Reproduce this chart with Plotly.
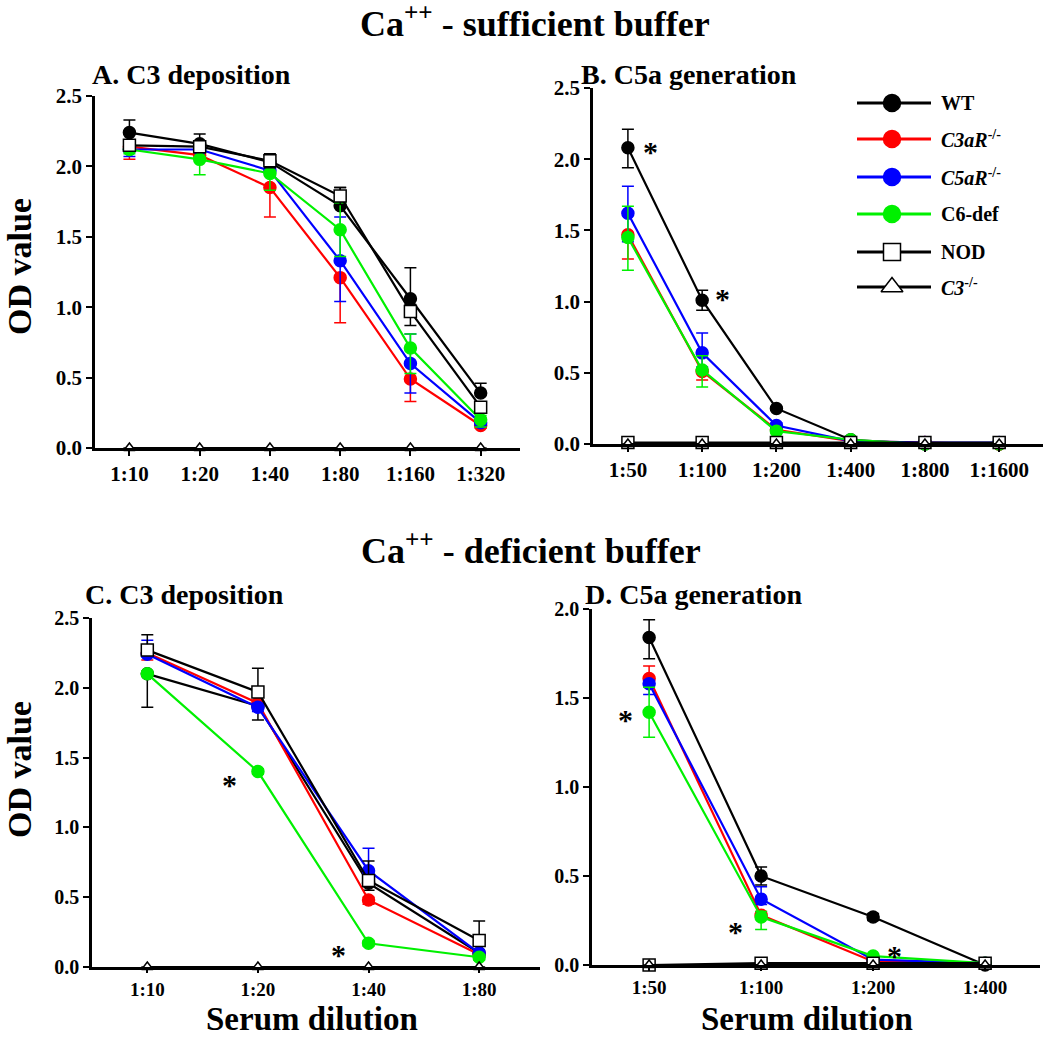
import plotly.graph_objects as go

# ---------------- DATA ----------------
series_names = ["WT", "C3aR-/-", "C5aR-/-", "C6-def", "NOD", "C3-/-"]

dil_A = ["1:10", "1:20", "1:40", "1:80", "1:160", "1:320"]
A_WT = [2.24, 2.16, 2.03, 1.72, 1.06, 0.39]
A_WT_up = [0.09, 0.07, 0.05, 0.13, 0.22, 0.07]
A_WT_dn = [0.0, 0.0, 0.0, 0.0, 0.0, 0.0]
A_C3aR = [2.14, 2.08, 1.85, 1.21, 0.49, 0.16]
A_C3aR_up = [0.0, 0.0, 0.0, 0.0, 0.0, 0.0]
A_C3aR_dn = [0.09, 0.03, 0.21, 0.32, 0.16, 0.02]
A_C5aR = [2.12, 2.12, 1.97, 1.33, 0.60, 0.18]
A_C5aR_up = [0.02, 0.02, 0.03, 0.31, 0.21, 0.02]
A_C5aR_dn = [0.05, 0.02, 0.03, 0.29, 0.21, 0.02]
A_C6 = [2.12, 2.05, 1.95, 1.55, 0.71, 0.20]
A_C6_up = [0.03, 0.05, 0.02, 0.19, 0.10, 0.03]
A_C6_dn = [0.03, 0.11, 0.12, 0.19, 0.18, 0.05]
A_NOD = [2.15, 2.14, 2.04, 1.79, 0.97, 0.29]
A_NOD_up = [0.03, 0.03, 0.05, 0.06, 0.05, 0.0]
A_NOD_dn = [0.03, 0.03, 0.05, 0.06, 0.10, 0.0]
A_C3 = [0.0, 0.0, 0.0, 0.0, 0.0, 0.0]

dil_B = ["1:50", "1:100", "1:200", "1:400", "1:800", "1:1600"]
B_WT = [2.08, 1.01, 0.25, 0.03, 0.0, 0.0]
B_WT_up = [0.13, 0.07, 0.01, 0.0, 0.0, 0.0]
B_WT_dn = [0.14, 0.07, 0.01, 0.0, 0.0, 0.0]
B_C3aR = [1.47, 0.51, 0.10, 0.02, 0.01, 0.0]
B_C3aR_up = [0.0, 0.0, 0.0, 0.0, 0.0, 0.0]
B_C3aR_dn = [0.17, 0.06, 0.01, 0.0, 0.0, 0.0]
B_C5aR = [1.62, 0.64, 0.13, 0.02, 0.01, 0.01]
B_C5aR_up = [0.19, 0.14, 0.02, 0.0, 0.0, 0.0]
B_C5aR_dn = [0.20, 0.10, 0.02, 0.0, 0.0, 0.0]
B_C6 = [1.45, 0.52, 0.09, 0.03, 0.0, 0.0]
B_C6_up = [0.22, 0.10, 0.01, 0.0, 0.0, 0.0]
B_C6_dn = [0.23, 0.12, 0.01, 0.0, 0.0, 0.0]
B_NOD = [0.01, 0.01, 0.01, 0.01, 0.01, 0.01]
B_C3 = [0.0, 0.0, 0.0, 0.0, 0.0, 0.0]

dil_C = ["1:10", "1:20", "1:40", "1:80"]
C_WT = [2.10, 1.87, 0.60, 0.10]
C_WT_up = [0.0, 0.0, 0.0, 0.0]
C_WT_dn = [0.24, 0.10, 0.05, 0.02]
C_C3aR = [2.25, 1.89, 0.48, 0.09]
C_C3aR_up = [0.02, 0.02, 0.02, 0.01]
C_C3aR_dn = [0.05, 0.03, 0.03, 0.01]
C_C5aR = [2.24, 1.86, 0.69, 0.10]
C_C5aR_up = [0.10, 0.03, 0.16, 0.02]
C_C5aR_dn = [0.02, 0.03, 0.02, 0.02]
C_C6 = [2.10, 1.40, 0.17, 0.07]
C_C6_up = [0.02, 0.02, 0.02, 0.02]
C_C6_dn = [0.02, 0.02, 0.02, 0.02]
C_NOD = [2.27, 1.97, 0.62, 0.19]
C_NOD_up = [0.11, 0.17, 0.14, 0.14]
C_NOD_dn = [0.0, 0.0, 0.0, 0.0]
C_C3 = [0.0, 0.0, 0.0, 0.0]

dil_D = ["1:50", "1:100", "1:200", "1:400"]
D_WT = [1.84, 0.50, 0.27, 0.0]
D_WT_up = [0.10, 0.05, 0.02, 0.0]
D_WT_dn = [0.12, 0.05, 0.02, 0.0]
D_C3aR = [1.61, 0.28, 0.02, 0.01]
D_C3aR_up = [0.07, 0.02, 0.01, 0.0]
D_C3aR_dn = [0.02, 0.02, 0.0, 0.0]
D_C5aR = [1.58, 0.37, 0.03, 0.01]
D_C5aR_up = [0.02, 0.07, 0.01, 0.0]
D_C5aR_dn = [0.06, 0.03, 0.01, 0.0]
D_C6 = [1.42, 0.27, 0.05, 0.01]
D_C6_up = [0.14, 0.03, 0.01, 0.0]
D_C6_dn = [0.14, 0.07, 0.01, 0.0]
D_NOD = [0.0, 0.01, 0.01, 0.01]
D_C3 = [0.0, 0.0, 0.0, 0.0]

# significance asterisks: (category index, offset, y value)
star_B = [(0, 0.31, 2.10), (1, 0.27, 1.07)]
star_C = [(1, -0.26, 1.36), (2, -0.27, 0.14)]
star_D = [(0, -0.21, 1.42), (1, -0.23, 0.23), (2, 0.19, 0.09)]

# ---------------- STYLE ----------------
W, H = 1050, 1039
FONT = "Liberation Serif"
green = "#00F000"


def px_x(p):
    return p / W


def px_y(p):
    return 1 - p / H


fig = go.Figure()


def add_series(xa, ya, cats, y, up, dn, name, symbol, fill, line_color, msize):
    xs = list(range(len(cats)))
    fig.add_trace(go.Scatter(
        x=xs, y=y, xaxis=xa, yaxis=ya, mode="lines+markers", name=name,
        showlegend=False, cliponaxis=False,
        line=dict(color=line_color, width=2.2),
        marker=dict(symbol=symbol, size=msize, color=fill,
                    line=dict(color=line_color, width=1.5)),
        error_y=dict(type="data", symmetric=False,
                     array=up if up is not None else [0] * len(y),
                     arrayminus=dn if dn is not None else [0] * len(y),
                     color=line_color, thickness=1.5, width=6,
                     visible=True),
    ))


def add_panel(xa, ya, cats, WT, C3aR, C5aR, C6, NOD, C3):
    add_series(xa, ya, cats, WT[0], WT[1], WT[2], "WT", "circle", "#000000", "#000000", 12)
    add_series(xa, ya, cats, C3aR[0], C3aR[1], C3aR[2], "C3aR-/-", "circle", "#FF0000", "#FF0000", 12)
    add_series(xa, ya, cats, C5aR[0], C5aR[1], C5aR[2], "C5aR-/-", "circle", "#0000FF", "#0000FF", 12)
    add_series(xa, ya, cats, C6[0], C6[1], C6[2], "C6-def", "circle", green, green, 12)
    add_series(xa, ya, cats, NOD[0], NOD[1], NOD[2], "NOD", "square", "#FFFFFF", "#000000", 12)
    add_series(xa, ya, cats, C3[0], C3[1], C3[2], "C3-/-", "triangle-up", "#FFFFFF", "#000000", 10)


add_panel("x", "y", dil_A, (A_WT, A_WT_up, A_WT_dn), (A_C3aR, A_C3aR_up, A_C3aR_dn),
          (A_C5aR, A_C5aR_up, A_C5aR_dn), (A_C6, A_C6_up, A_C6_dn),
          (A_NOD, A_NOD_up, A_NOD_dn), (A_C3, None, None))
add_panel("x2", "y2", dil_B, (B_WT, B_WT_up, B_WT_dn), (B_C3aR, B_C3aR_up, B_C3aR_dn),
          (B_C5aR, B_C5aR_up, B_C5aR_dn), (B_C6, B_C6_up, B_C6_dn),
          (B_NOD, None, None), (B_C3, None, None))
add_panel("x3", "y3", dil_C, (C_WT, C_WT_up, C_WT_dn), (C_C3aR, C_C3aR_up, C_C3aR_dn),
          (C_C5aR, C_C5aR_up, C_C5aR_dn), (C_C6, C_C6_up, C_C6_dn),
          (C_NOD, C_NOD_up, C_NOD_dn), (C_C3, None, None))
add_panel("x4", "y4", dil_D, (D_WT, D_WT_up, D_WT_dn), (D_C3aR, D_C3aR_up, D_C3aR_dn),
          (D_C5aR, D_C5aR_up, D_C5aR_dn), (D_C6, D_C6_up, D_C6_dn),
          (D_NOD, None, None), (D_C3, None, None))

# ---------------- LEGEND (manual, on a hidden pixel overlay) ----------------
leg_rows = [103, 139, 177, 214, 252, 287]
leg_x0, leg_x1, leg_xm, leg_tx = 857, 931, 892, 939
leg_symbols = ["circle", "circle", "circle", "circle", "square", "triangle-up"]
leg_fill = ["#000000", "#FF0000", "#0000FF", green, "#FFFFFF", "#FFFFFF"]
leg_line = ["#000000", "#FF0000", "#0000FF", green, "#000000", "#000000"]
leg_sizes = [17, 17, 17, 17, 17, 19]
leg_texts = ["<b>WT</b>", "<b><i>C3aR</i><sup>-/-</sup></b>", "<b><i>C5aR</i><sup>-/-</sup></b>",
             "<b>C6-def</b>", "<b>NOD</b>", "<b><i>C3</i><sup>-/-</sup></b>"]
for yrow, sym, fc, lc, sz in zip(leg_rows, leg_symbols, leg_fill, leg_line, leg_sizes):
    fig.add_trace(go.Scatter(x=[leg_x0, leg_x1], y=[yrow, yrow],
                             xaxis="x5", yaxis="y5",
                             mode="lines", showlegend=False, cliponaxis=False,
                             line=dict(color=lc, width=2.8), hoverinfo="skip"))
    fig.add_trace(go.Scatter(x=[leg_xm], y=[yrow], xaxis="x5", yaxis="y5",
                             mode="markers", showlegend=False, cliponaxis=False,
                             marker=dict(symbol=sym, size=sz, color=fc,
                                         line=dict(color=lc, width=1.5)),
                             hoverinfo="skip"))

annotations = []
for yrow, t in zip(leg_rows, leg_texts):
    annotations.append(dict(x=leg_tx, y=yrow, xref="x5", yref="y5", text=t,
                            showarrow=False, xanchor="left", yanchor="middle",
                            font=dict(family=FONT, size=20, color="black")))

# ---------------- AXES ----------------
tickfont = dict(family=FONT, size=21, color="black", weight="bold")
tickfont_cd = dict(family=FONT, size=20, color="black", weight="bold")
tickfont_cd_x = dict(family=FONT, size=19, color="black", weight="bold")


def xaxis(dom, cats, rng, tf, tl=5):
    return dict(domain=[px_x(dom[0]), px_x(dom[1])], range=rng,
                tickmode="array", tickvals=list(range(len(cats))), ticktext=cats,
                showline=True, linecolor="black", linewidth=2.5, ticks="outside",
                ticklen=tl, tickwidth=2, tickcolor="black", showgrid=False,
                zeroline=False, tickfont=tf, fixedrange=True, automargin=False)


def yaxis(dom, rng, tf):
    return dict(domain=[px_y(dom[1]), px_y(dom[0])], range=rng, dtick=0.5, tick0=0,
                tickformat=".1f", showline=True, linecolor="black", linewidth=2.5,
                ticks="outside", ticklen=6, tickwidth=2, tickcolor="black",
                showgrid=False, zeroline=False, tickfont=tf, fixedrange=True,
                automargin=False)


layout = dict(
    width=W, height=H, margin=dict(l=0, r=0, t=0, b=0, pad=0, autoexpand=False),
    autosize=False,
    paper_bgcolor="white", plot_bgcolor="rgba(0,0,0,0)",
    showlegend=False,
    xaxis=dict(**xaxis((95, 520), dil_A, [-0.49, 5.56], tickfont), anchor="y"),
    yaxis=dict(**yaxis((96, 448), [0, 2.5], tickfont), anchor="x"),
    xaxis2=dict(**xaxis((593, 1043), dil_B, [-0.47, 5.59], tickfont), anchor="y2"),
    yaxis2=dict(**yaxis((88, 444), [0, 2.5], tickfont), anchor="x2"),
    xaxis3=dict(**xaxis((92, 540), dil_C, [-0.50, 3.55], tickfont_cd_x, 3), anchor="y3"),
    yaxis3=dict(**yaxis((618, 967), [0, 2.5], tickfont_cd), anchor="x3"),
    xaxis4=dict(**xaxis((592, 1040), dil_D, [-0.51, 3.49], tickfont_cd_x, 3), anchor="y4"),
    yaxis4=dict(**yaxis((609, 965), [0, 2.0], tickfont_cd), anchor="x4"),
    xaxis5=dict(domain=[0, 1], range=[0, W], visible=False, anchor="y5", fixedrange=True),
    yaxis5=dict(domain=[0, 1], range=[H, 0], visible=False, anchor="x5", fixedrange=True),
)


def paper_text(x, y, text, size, xanchor="center", angle=0, yanchor="middle"):
    return dict(x=px_x(x), y=px_y(y), xref="paper", yref="paper", text=text,
                showarrow=False, xanchor=xanchor, yanchor=yanchor, textangle=angle,
                font=dict(family=FONT, size=size, color="black"))


annotations += [
    paper_text(535, 21, "<b>Ca<sup>++</sup> - sufficient buffer</b>", 36),
    paper_text(531, 548, "<b>Ca<sup>++</sup> - deficient buffer</b>", 36),
    paper_text(90, 75, "<b>A. C3 deposition</b>", 28, "left"),
    paper_text(579, 75, "<b>B. C5a generation</b>", 28, "left"),
    paper_text(83, 594, "<b>C. C3 deposition</b>", 28, "left"),
    paper_text(583, 594, "<b>D. C5a generation</b>", 28, "left"),
    paper_text(19, 267, "<b>OD value</b>", 34, "center", -90),
    paper_text(19, 770, "<b>OD value</b>", 34, "center", -90),
    paper_text(312, 1039, "<b>Serum dilution</b>", 33, "center", 0, "bottom"),
    paper_text(807, 1039, "<b>Serum dilution</b>", 33, "center", 0, "bottom"),
]

for xa, ya, stars in (("x2", "y2", star_B), ("x3", "y3", star_C), ("x4", "y4", star_D)):
    for ci, off, yv in stars:
        annotations.append(dict(x=ci + off, y=yv, xref=xa, yref=ya, text="<b>*</b>",
                                showarrow=False, xanchor="center", yanchor="middle",
                                yshift=-7,
                                font=dict(family=FONT, size=30, color="black")))

layout["annotations"] = annotations
fig.update_layout(**layout)
fig.write_html("out.html",
               config={"displayModeBar": False},
               post_script="document.body.style.margin='0';"
                           "document.body.style.overflow='hidden';")
